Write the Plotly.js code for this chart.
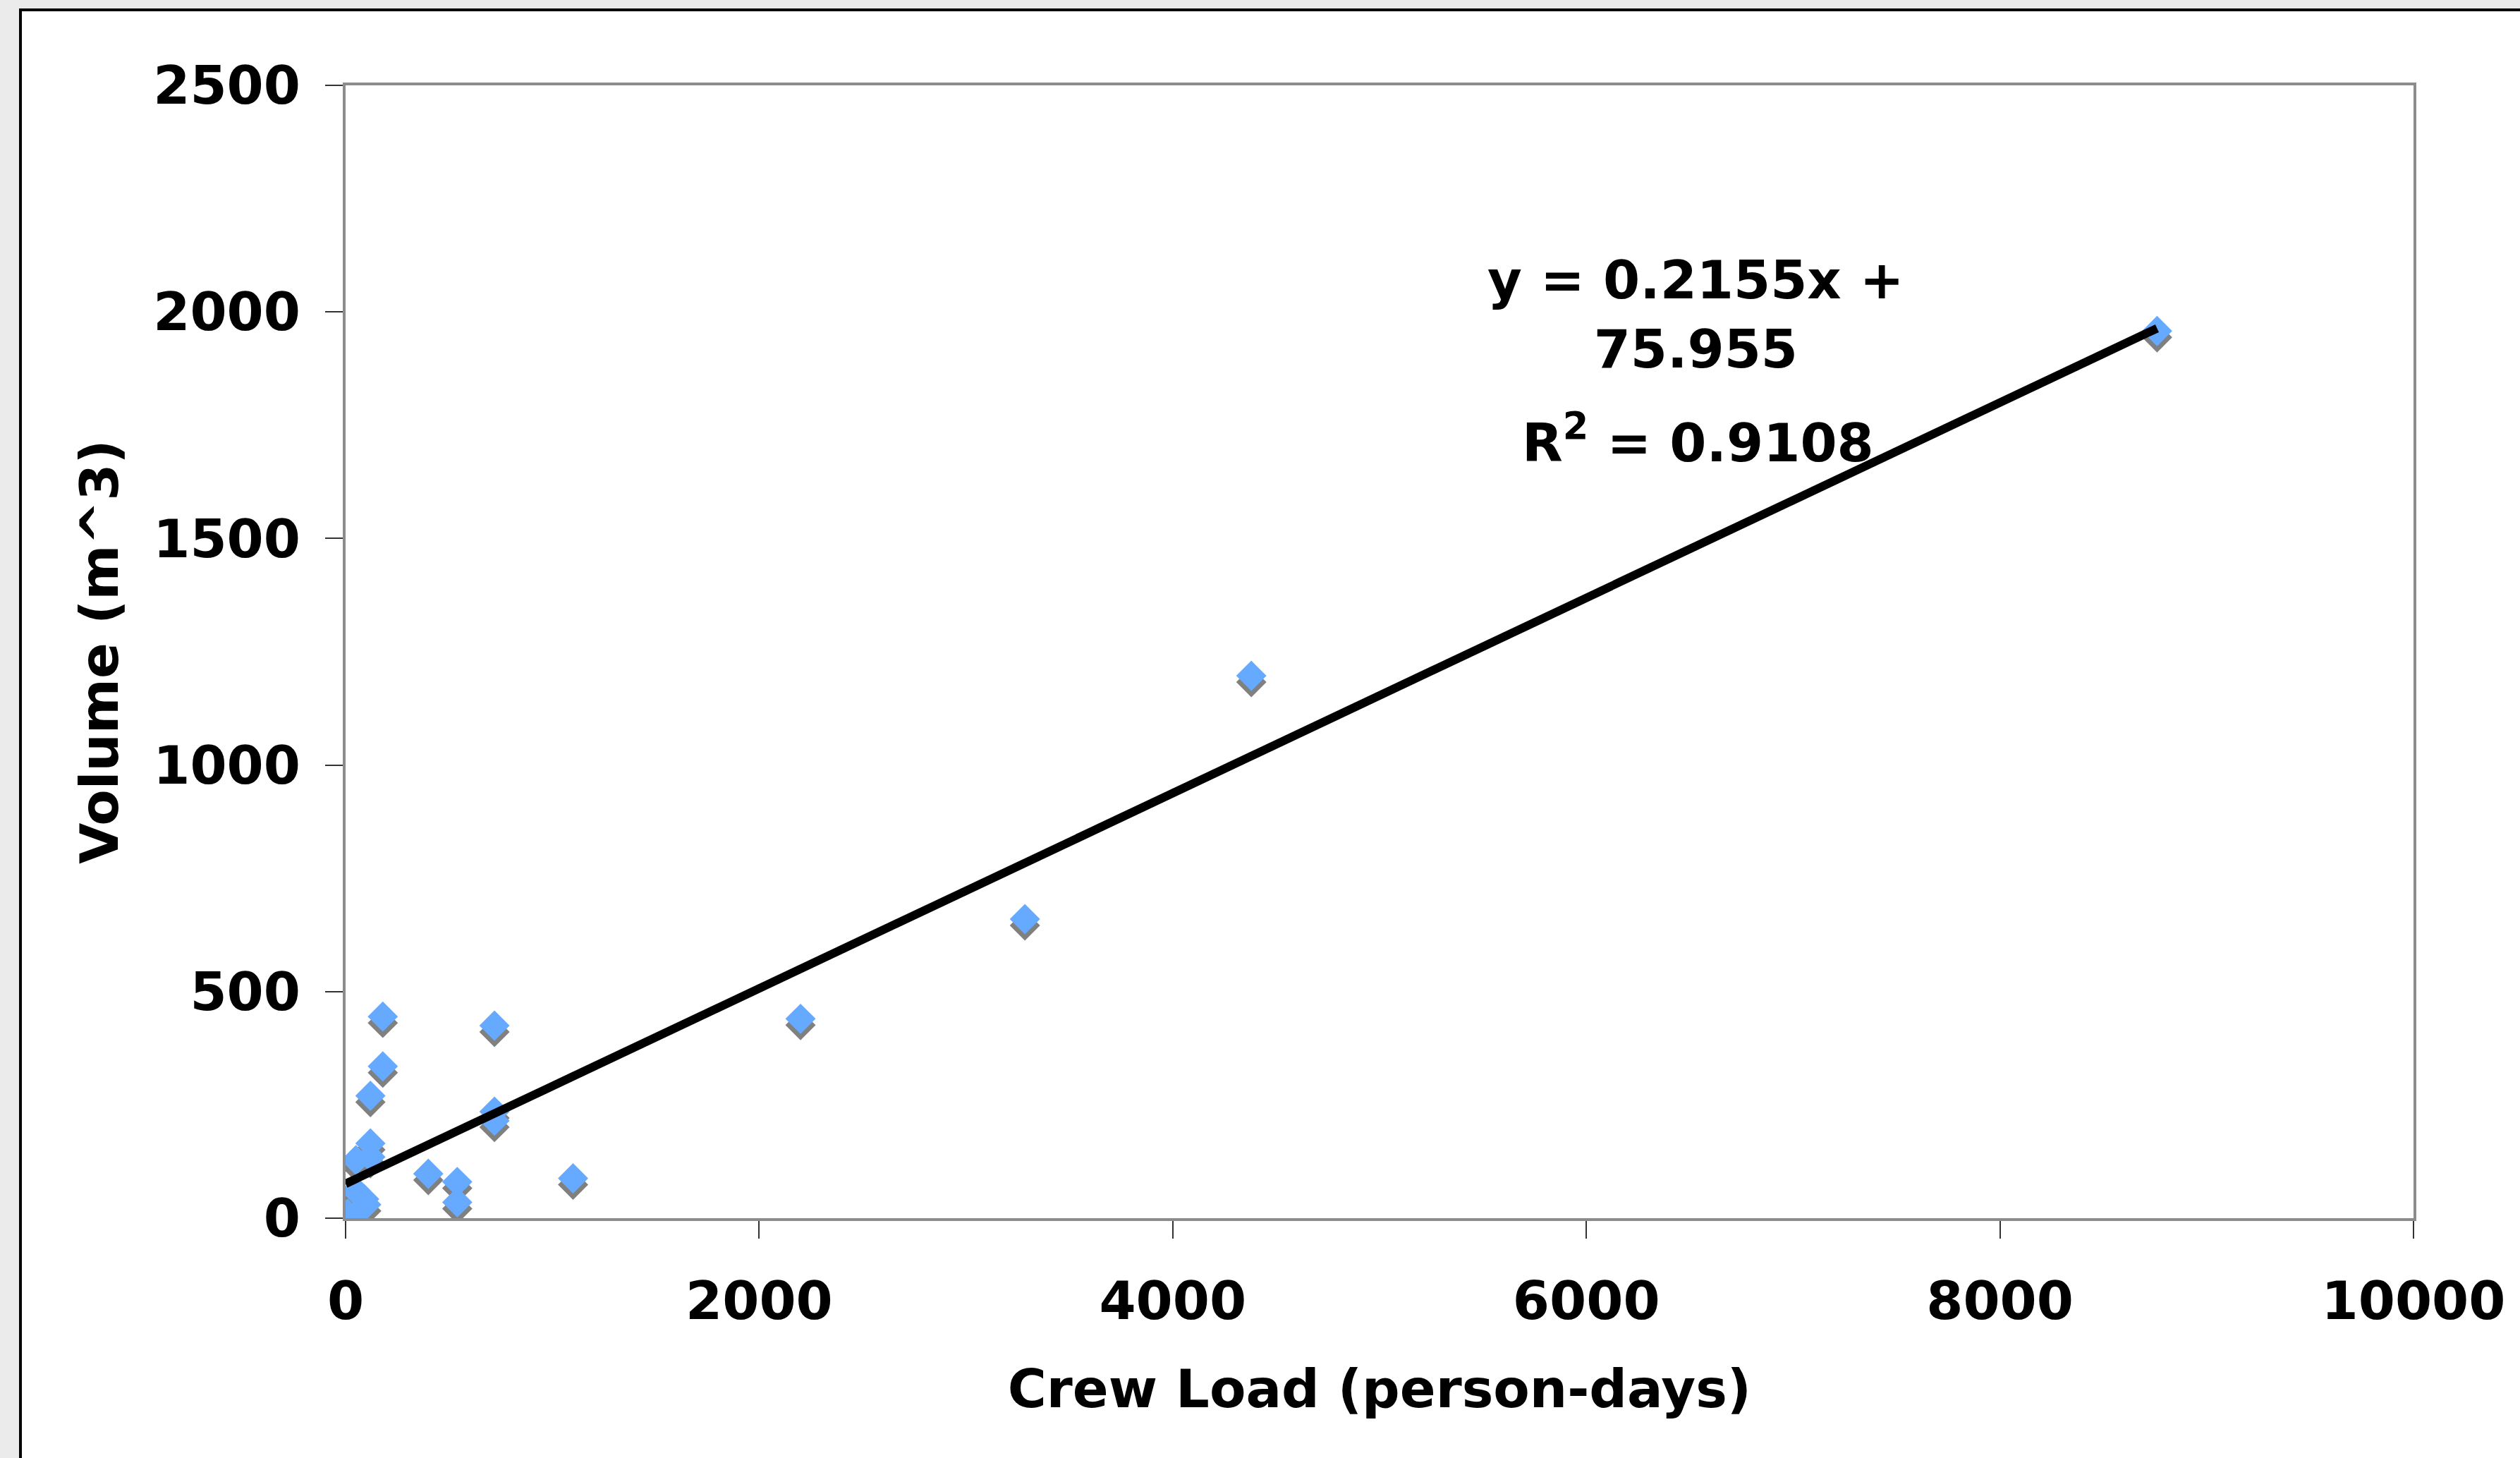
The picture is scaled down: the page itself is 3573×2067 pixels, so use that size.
<!DOCTYPE html>
<html>
<head>
<meta charset="utf-8">
<script src="https://cdn.plot.ly/plotly-3.0.1.min.js"></script>
<style>
  html, body { margin: 0; padding: 0; background: #ebebeb; }
  #chart { width: 3573px; height: 2067px; }
</style>
</head>
<body>
<div id="chart"></div>
<script>
// ---- data ----
const crewLoad = [10, 45, 50, 50, 90, 100, 120, 120, 120, 180, 180, 400, 540, 540, 720, 720, 720, 1100, 2200, 3285, 4380, 8760];
const volume   = [10, 5, 60, 128, 42, 30, 135, 165, 270, 335, 445, 98, 80, 35, 425, 235, 215, 88, 440, 660, 1197, 1958];
const slope = 0.2155;
const intercept = 75.955;
const rSquared = 0.9108;
const xTickVals = [0, 2000, 4000, 6000, 8000, 10000];
const yTickVals = [0, 500, 1000, 1500, 2000, 2500];
const xTitle = 'Crew Load (person-days)';
const yTitle = 'Volume (m^3)';

// ---- styling ----
const W = 3573, H = 2067;
const L = 490, R = 151, T = 121, B = 340;
const plotW = W - L - R, plotH = H - T - B;
const shadowPx = 9;
const yMax = 2500;
const shadowShift = shadowPx * yMax / plotH;

const font = { family: '"DejaVu Sans", Verdana, sans-serif', size: 75, color: '#000000', weight: 'bold' };

const trendX = [0, Math.max(...crewLoad)];
const trendY = trendX.map(v => slope * v + intercept);

const traces = [
  { // shadow
    x: crewLoad, y: volume, type: 'scatter', mode: 'markers',
    xaxis: 'x', yaxis: 'y',
    marker: { symbol: 'diamond', size: 33, color: '#808080', line: { width: 0 } },
    hoverinfo: 'skip', showlegend: false
  },
  { // points
    x: crewLoad, y: volume, type: 'scatter', mode: 'markers',
    xaxis: 'x', yaxis: 'y2',
    marker: { symbol: 'diamond', size: 33, color: '#66aaff', line: { width: 0 } },
    showlegend: false
  },
  { // trend line
    x: trendX, y: trendY, type: 'scatter', mode: 'lines',
    xaxis: 'x', yaxis: 'y2',
    line: { color: '#000000', width: 12 },
    showlegend: false
  }
];

function px2paperX(px) { return (px - L) / plotW; }
function px2paperY(py) { return (H - B - py) / plotH; }

const layout = {
  width: W, height: H,
  margin: { l: L, r: R, t: T, b: B, pad: 0 },
  paper_bgcolor: '#ebebeb',
  plot_bgcolor: 'rgba(0,0,0,0)',
  font: font,
  showlegend: false,
  xaxis: {
    range: [0, 10000], tickvals: xTickVals, ticktext: xTickVals.map(String),
    showgrid: false, zeroline: false,
    showline: true, linecolor: '#8c8c8c', linewidth: 4, mirror: true,
    ticks: 'outside', ticklen: 25, tickwidth: 2, tickcolor: '#333333',
    tickfont: font, ticklabelstandoff: 24,
    title: { text: xTitle, font: font, standoff: 56 },
    fixedrange: true
  },
  yaxis: {
    range: [shadowShift, yMax + shadowShift],
    visible: false, showgrid: false, zeroline: false, fixedrange: true
  },
  yaxis2: {
    overlaying: 'y', side: 'left', anchor: 'x',
    range: [0, yMax], tickvals: yTickVals, ticktext: yTickVals.map(String),
    showgrid: false, zeroline: false,
    showline: true, linecolor: '#8c8c8c', linewidth: 4, mirror: true,
    ticks: 'outside', ticklen: 25, tickwidth: 2, tickcolor: '#333333',
    tickfont: font, ticklabelstandoff: 20,
    title: { text: yTitle, font: font, standoff: 26 },
    fixedrange: true
  },
  shapes: [
    {
      type: 'rect', xref: 'paper', yref: 'paper', layer: 'below',
      x0: px2paperX(29), x1: px2paperX(W + 20),
      y0: px2paperY(H + 20), y1: px2paperY(14),
      fillcolor: '#ffffff', line: { color: '#000000', width: 4 }
    }
  ],
  annotations: [
    {
      xref: 'paper', yref: 'paper',
      x: px2paperX(2404), y: px2paperY(446),
      xanchor: 'center', yanchor: 'middle',
      text: 'y = ' + slope + 'x +<br>' + intercept,
      showarrow: false, font: font, align: 'center'
    },
    {
      xref: 'paper', yref: 'paper',
      x: px2paperX(2407), y: px2paperY(622),
      xanchor: 'center', yanchor: 'middle',
      text: 'R<sup>2</sup> = ' + rSquared,
      showarrow: false, font: font, align: 'center'
    }
  ]
};

Plotly.newPlot('chart', traces, layout, { staticPlot: true, displayModeBar: false });
</script>
</body>
</html>
